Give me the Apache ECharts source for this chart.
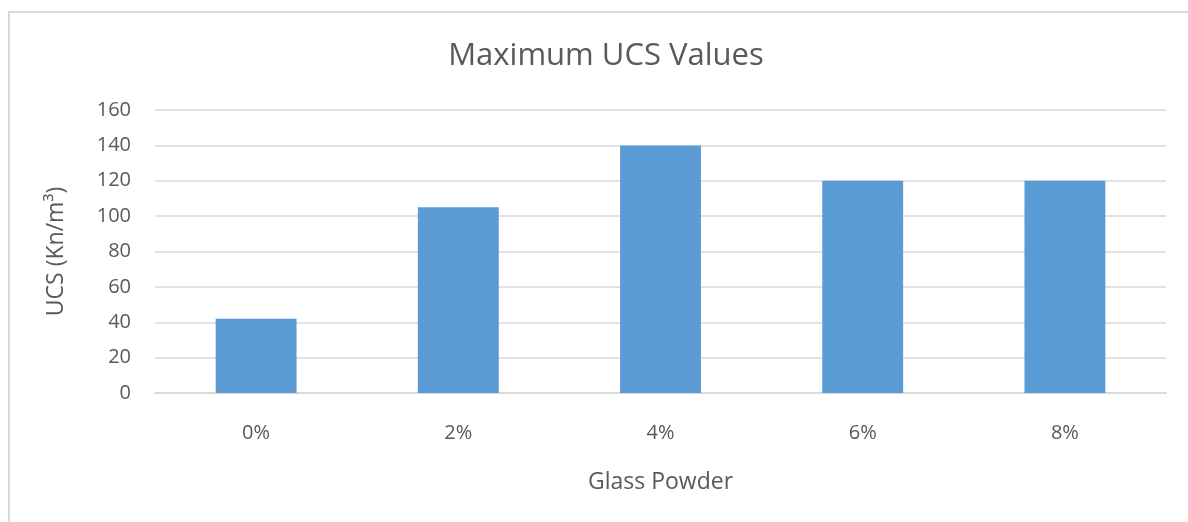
<!DOCTYPE html>
<html>
<head>
<meta charset="utf-8">
<script src="https://cdn.jsdelivr.net/npm/echarts@6/dist/echarts.min.js"></script>
<style>
  html, body { margin: 0; padding: 0; background: #fff; }
</style>
</head>
<body>
<!-- chart container -->
<div id="main" style="width: 1188px; height: 522px"></div>
<script>
// data
var categories = ['0%', '2%', '4%', '6%', '8%'];
var ucsValues = [42, 105, 140, 120, 120];

var myChart = echarts.init(document.getElementById('main'));
var font = 'Open Sans';

var option = {
  backgroundColor: '#fff',
  animation: false,
  title: {
    text: 'Maximum UCS Values',
    left: 601,
    top: 36,
    textAlign: 'center',
    textStyle: { fontFamily: font, fontSize: 31, fontWeight: 'normal', color: '#595959' }
  },
  graphic: [{
    type: 'rect',
    shape: { x: 9, y: 12, width: 1200, height: 530 },
    style: { fill: 'none', stroke: '#d9d9d9', lineWidth: 2 },
    silent: true
  }],
  grid: { left: 155, right: 22, top: 110, bottom: 129, containLabel: false },
  xAxis: {
    type: 'category',
    data: categories,
    name: 'Glass Powder',
    nameLocation: 'middle',
    nameGap: 78,
    nameTextStyle: { fontFamily: font, fontSize: 23, color: '#595959' },
    axisLine: { lineStyle: { color: '#d9d9d9', width: 2 } },
    axisTick: { show: false },
    axisLabel: { fontFamily: font, fontSize: 20, color: '#595959', margin: 30 }
  },
  yAxis: {
    type: 'value',
    min: 0,
    max: 160,
    interval: 20,
    name: 'UCS (Kn/m³)',
    nameLocation: 'middle',
    nameGap: 87,
    nameTextStyle: { fontFamily: font, fontSize: 23, color: '#595959' },
    axisLine: { show: false },
    axisTick: { show: false },
    axisLabel: { fontFamily: font, fontSize: 20, color: '#595959', margin: 24 },
    splitLine: { lineStyle: { color: '#d9d9d9', width: 1.5 } }
  },
  series: [{
    type: 'bar',
    data: ucsValues,
    barWidth: '40%',
    itemStyle: { color: '#5b9bd5' }
  }]
};

myChart.setOption(option);
</script>
</body>
</html>
